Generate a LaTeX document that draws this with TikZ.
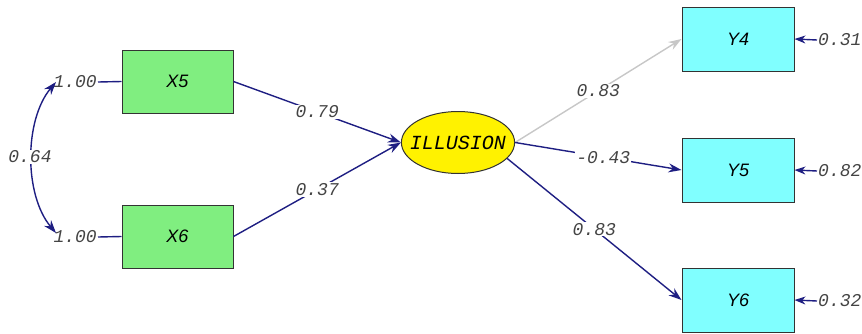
\documentclass[tikz,border=0pt]{standalone}
\usepackage{fontspec}
\setmainfont{Liberation Sans}
\newfontfamily\monofont{Liberation Mono}
\usetikzlibrary{arrows.meta,shapes.geometric}
\definecolor{navy}{HTML}{1E1E82}
\definecolor{boxgreen}{HTML}{80EE80}
\definecolor{boxcyan}{HTML}{80FFFF}
\definecolor{ellyellow}{HTML}{FFF200}
\definecolor{lbl}{HTML}{444444}
\begin{document}
\begin{tikzpicture}[x=1pt,y=-1pt,
  obsx/.style={draw=black!80,line width=1pt,fill=boxgreen,minimum width=111pt,minimum height=63pt,inner sep=0pt,font=\fontsize{18}{18}\selectfont\itshape},
  obsy/.style={draw=black!80,line width=1pt,fill=boxcyan,minimum width=112pt,minimum height=64pt,inner sep=0pt,font=\fontsize{18}{18}\selectfont\itshape},
  latent/.style={ellipse,draw=black!80,line width=1pt,fill=ellyellow,minimum width=110pt,minimum height=62pt,inner xsep=-8pt,inner ysep=0pt,font=\monofont\fontsize{20}{20}\selectfont\itshape},
  val/.style={text=lbl,font=\monofont\fontsize{18}{18}\selectfont\itshape,inner sep=1pt},
  wval/.style={val,fill=white},
  path/.style={draw=navy,line width=1.4pt,-{Stealth[length=13pt,width=9pt]}},
  gpath/.style={draw=black!22,line width=1.4pt,-{Stealth[length=13pt,width=9pt]}},
  plain/.style={draw=navy,line width=1.4pt}
]
\useasboundingbox (0,0) rectangle (862,333);
\node[obsx] (X5) at (177.5,81.5) {X5};
\node[obsx] (X6) at (177.5,236.5) {X6};
\node[latent] (IL) at (458,142.5) {ILLUSION};
\node[obsy] (Y4) at (738,39) {Y4};
\node[obsy] (Y5) at (738,170) {Y5};
\node[obsy] (Y6) at (738,300) {Y6};

\node[val,anchor=east] (v5) at (98,82) {1.00};
\node[val,anchor=east] (v6) at (98,237) {1.00};
\draw[plain] (v5.east) -- (X5.west);
\draw[plain] (v6.east) -- (X6.west);

\coordinate (c1) at (56,82);
\coordinate (c2) at (56,233);
\draw[navy,line width=1.4pt,{Stealth[length=13pt,width=9pt]}-{Stealth[length=13pt,width=9pt]}] (c1) .. controls (24,120) and (24,195) .. (c2);
\node[wval] (cov) at (30,157) {0.64};

\draw[path] (X5.east) -- node[wval,pos=0.5] {0.79} (IL.west);
\draw[path] (X6.east) -- node[wval,pos=0.5] {0.37} (IL.west);
\draw[gpath] (IL.east) -- node[wval,pos=0.5] {0.83} (Y4.west);
\draw[path] (IL.east) -- node[wval,pos=0.53] {-0.43} (Y5.west);
\draw[path] (IL.-18) -- node[wval,pos=0.5] {0.83} (Y6.west);

\node[val,anchor=west] (e4) at (817,40) {0.31};
\node[val,anchor=west] (e5) at (817,171) {0.82};
\node[val,anchor=west] (e6) at (817,301) {0.32};
\draw[path,-{Stealth[length=11pt,width=8pt]}] (e4.west) -- (Y4.east);
\draw[path,-{Stealth[length=11pt,width=8pt]}] (e5.west) -- (Y5.east);
\draw[path,-{Stealth[length=11pt,width=8pt]}] (e6.west) -- (Y6.east);
\end{tikzpicture}
\end{document}
